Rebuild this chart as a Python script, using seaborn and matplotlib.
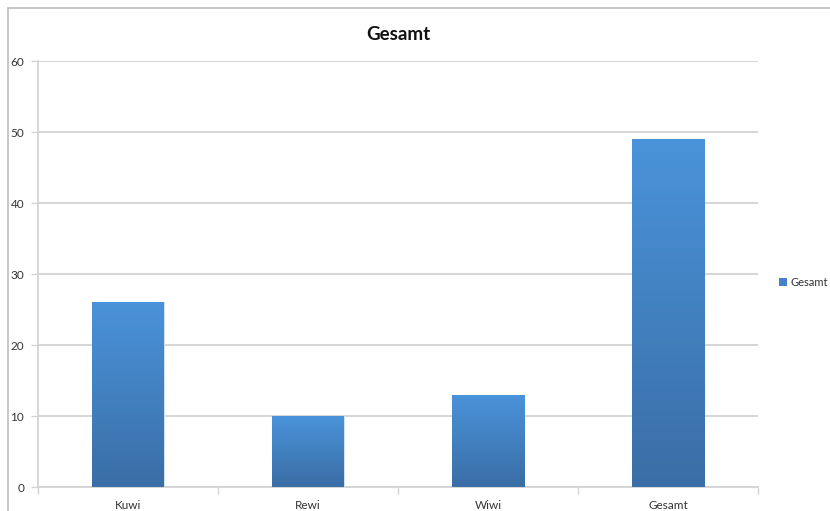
import numpy as np
import pandas as pd
import matplotlib
matplotlib.use("Agg")
import matplotlib.pyplot as plt
from matplotlib.colors import LinearSegmentedColormap
from matplotlib.lines import Line2D
from matplotlib.patches import Patch
import seaborn as sns

categories = ["Kuwi", "Rewi", "Wiwi", "Gesamt"]
values = [26, 10, 13, 49]
series_name = "Gesamt"
title = "Gesamt"
y_ticks = [0, 10, 20, 30, 40, 50, 60]

sns.set_theme(style="white")
plt.rcParams["font.family"] = ["Lato", "DejaVu Sans"]

df = pd.DataFrame({"Fach": categories, "Anzahl": values})

W, H = 830, 511
fig = plt.figure(figsize=(W / 100, H / 100), dpi=100)
ax = fig.add_axes([38 / W, (H - 487) / H, (758 - 38) / W, (487 - 61) / H])

grid_col = "#d3d3d3"
sns.barplot(data=df, x="Fach", y="Anzahl", ax=ax, width=0.4,
            color="#4178bd", edgecolor="#dfe8f3", linewidth=0.6, zorder=3)

# vertical gradient inside each bar
grad = LinearSegmentedColormap.from_list("bar", ["#3a6ea6", "#4a93da"])
ramp = np.linspace(0, 1, 256).reshape(-1, 1)
for p in ax.patches:
    x0, y0 = p.get_x(), p.get_y()
    w, h = p.get_width(), p.get_height()
    im = ax.imshow(ramp, cmap=grad, aspect="auto", origin="lower",
                   extent=[x0, x0 + w, y0, y0 + h], zorder=3.5)
    im.set_clip_path(p)

ax.set_xlim(-0.5, len(categories) - 0.5)
ax.set_ylim(0, 60)
ax.set_yticks(y_ticks)
ax.yaxis.grid(True, color=grid_col, linewidth=1.3, zorder=0)
ax.set_axisbelow(True)
ax.set_xlabel("")
ax.set_ylabel("")

for s in ["top", "right"]:
    ax.spines[s].set_visible(False)
for s in ["left", "bottom"]:
    ax.spines[s].set_color(grid_col)
    ax.spines[s].set_linewidth(1.3)

ax.tick_params(axis="y", length=5, width=1, color=grid_col, pad=5,
               labelsize=8.5, labelcolor="#333333", left=True)
ax.tick_params(axis="x", which="major", length=0, pad=9,
               labelsize=8.5, labelcolor="#333333")
ax.set_xticks(np.arange(-0.5, len(categories)), minor=True)
ax.tick_params(axis="x", which="minor", length=5, width=1, color=grid_col, bottom=True)

fig.suptitle(title, x=(38 + 758) / 2 / W, y=1 - 34 / H, va="center",
             fontsize=13.5, fontweight="bold", color="#111111")

handle = Patch(facecolor="#4384c8", edgecolor="none")
fig.legend([handle], [series_name], loc="center left",
           bbox_to_anchor=(779 / W, 1 - 282 / H), frameon=False,
           borderaxespad=0, borderpad=0,
           fontsize=8, handlelength=0.7, handleheight=0.7,
           handletextpad=0.35, labelcolor="#333333")

# chart frame
fig.add_artist(Line2D([8 / W, 8 / W], [0, 1 - 8 / H], transform=fig.transFigure,
                      color="#bdbdbd", linewidth=1.2))
fig.add_artist(Line2D([8 / W, 1], [1 - 8 / H, 1 - 8 / H], transform=fig.transFigure,
                      color="#bdbdbd", linewidth=1.2))

fig.savefig("out.png", dpi=100)
